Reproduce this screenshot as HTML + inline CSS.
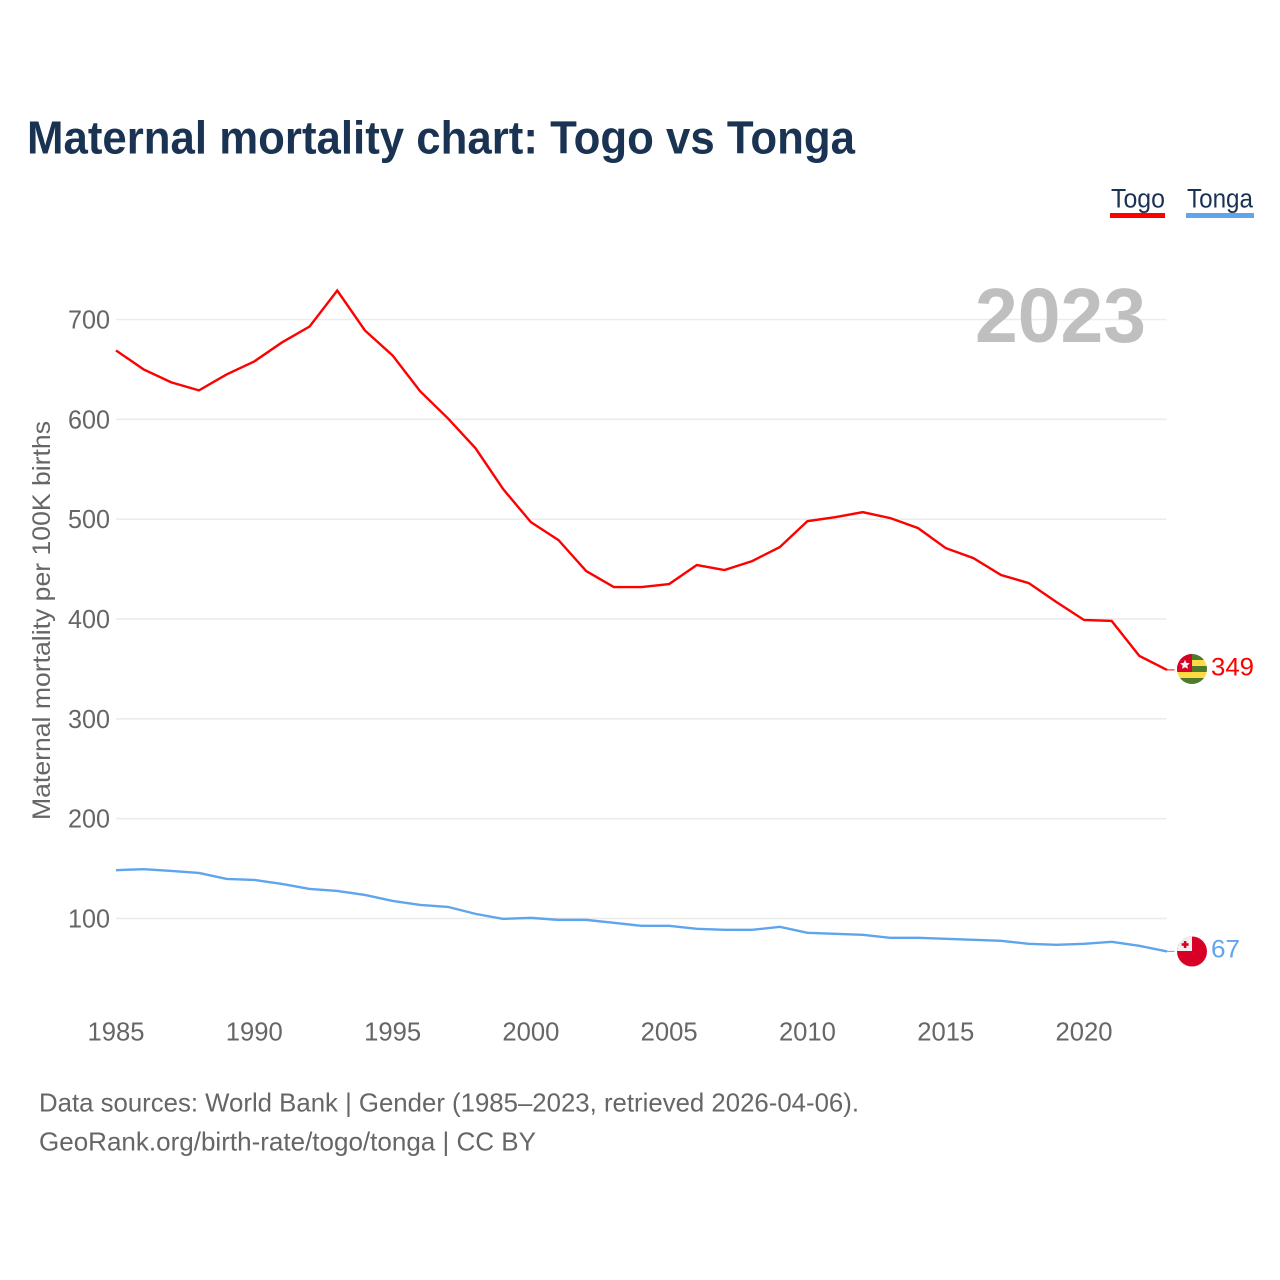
<!DOCTYPE html>
<html lang="en">
<head>
<meta charset="utf-8">
<title>Maternal mortality chart: Togo vs Tonga</title>
<style>
html,body{margin:0;padding:0;background:#fff;}
svg{display:block;}
text{font-family:"Liberation Sans",sans-serif;}
</style>
</head>
<body>
<svg id="chart" xmlns="http://www.w3.org/2000/svg" width="1280" height="1280" viewBox="0 0 1280 1280">
  <rect x="0" y="0" width="1280" height="1280" fill="#ffffff"/>
  <text x="27" y="153.3" font-size="46.5" font-weight="700" fill="#1a3353" textLength="828" lengthAdjust="spacingAndGlyphs">Maternal mortality chart: Togo vs Tonga</text>

  <g>
    <g>
      <text x="1111" y="207.7" font-size="26.5" fill="#1a3353" textLength="54" lengthAdjust="spacingAndGlyphs">Togo</text>
      <rect x="1110" y="213" width="55" height="5" fill="#ff0000"/>
    </g>
    <g>
      <text x="1187" y="207.7" font-size="26.5" fill="#1a3353" textLength="66" lengthAdjust="spacingAndGlyphs">Tonga</text>
      <rect x="1186" y="213" width="68" height="5" fill="#5fa5ee"/>
    </g>
  </g>

  <g id="grid"></g>
  <g id="yticks"></g>
  <g id="xticks"></g>

  <text x="975" y="342" font-size="77" font-weight="700" fill="#bfbfbf" textLength="171" lengthAdjust="spacingAndGlyphs">2023</text>

  <text transform="translate(50,820) rotate(-90)" x="0" y="0" font-size="25" fill="#666666" textLength="399" lengthAdjust="spacingAndGlyphs">Maternal mortality per 100K births</text>

  <g id="series"></g>

  <defs>
    <clipPath id="flag-clip-togo"><circle cx="1192" cy="669" r="15"/></clipPath>
    <clipPath id="flag-clip-tonga"><circle cx="1192" cy="951.5" r="15"/></clipPath>
  </defs>

  <g clip-path="url(#flag-clip-togo)">
    <rect x="1177" y="654" width="30" height="6" fill="#4e7a2c"/>
    <rect x="1177" y="660" width="30" height="6" fill="#ffda44"/>
    <rect x="1177" y="666" width="30" height="6" fill="#4e7a2c"/>
    <rect x="1177" y="672" width="30" height="6" fill="#ffda44"/>
    <rect x="1177" y="678" width="30" height="6" fill="#4e7a2c"/>
    <rect x="1177" y="654" width="15" height="18" fill="#d80027"/>
    <polygon points="1185,659.8 1186.4,662.9 1189.8,663.3 1187.3,665.6 1188,668.9 1185,667.2 1182,668.9 1182.7,665.6 1180.2,663.3 1183.6,662.9" fill="#f0f0f0"/>
  </g>

  <g clip-path="url(#flag-clip-tonga)">
    <rect x="1177" y="936" width="30" height="31" fill="#d80027"/>
    <rect x="1177" y="936" width="15" height="15" fill="#f0f0f0"/>
    <rect x="1183.8" y="941" width="2.6" height="7" fill="#d80027"/>
    <rect x="1181.6" y="943.2" width="7" height="2.6" fill="#d80027"/>
  </g>

  <text id="label-togo" x="1211" y="675.5" font-size="25" fill="#ff0000" textLength="43" lengthAdjust="spacingAndGlyphs"></text>
  <text id="label-tonga" x="1211" y="957.5" font-size="25" fill="#5fa5ee" textLength="29" lengthAdjust="spacingAndGlyphs"></text>

  <g>
    <text x="39" y="1111.5" font-size="26" fill="#666666" textLength="820" lengthAdjust="spacingAndGlyphs">Data sources: World Bank | Gender (1985–2023, retrieved 2026-04-06).</text>
    <text x="39" y="1150.5" font-size="26" fill="#666666" textLength="497" lengthAdjust="spacingAndGlyphs">GeoRank.org/birth-rate/togo/tonga | CC BY</text>
  </g>
</svg>
<script>
const years = [1985,1986,1987,1988,1989,1990,1991,1992,1993,1994,1995,1996,1997,1998,1999,2000,2001,2002,2003,2004,2005,2006,2007,2008,2009,2010,2011,2012,2013,2014,2015,2016,2017,2018,2019,2020,2021,2022,2023];
const togoValues = [669,650,637,629,645,658,677,693,729,689,664,628,601,571,530,497,479,448,432,432,435,454,449,458,472,498,502,507,501,491,471,461,444,436,417,399,398,363,349];
const tongaValues = [148.4,149.4,147.6,145.6,139.6,138.6,134.6,129.6,127.6,123.6,117.6,113.6,111.6,104.6,99.6,100.6,98.6,98.6,95.6,92.6,92.6,89.6,88.6,88.6,91.6,85.6,84.6,83.6,80.6,80.6,79.6,78.6,77.6,74.6,73.6,74.6,76.6,72.6,67];
const yTickValues = [100,200,300,400,500,600,700];
const xTickValues = [1985,1990,1995,2000,2005,2010,2015,2020];

const NS = 'http://www.w3.org/2000/svg';
function xScale(year){ return 116 + (year - 1985) * (1167 - 116) / 38; }
function yScale(v){ return 1018.3 - v * 0.9983; }
function make(tag, attrs, parent){
  const el = document.createElementNS(NS, tag);
  for (const k in attrs) el.setAttribute(k, attrs[k]);
  parent.appendChild(el);
  return el;
}

const grid = document.getElementById('grid');
const yticks = document.getElementById('yticks');
yTickValues.forEach(function(v){
  const line = make('line', {x1:116, x2:1166.5, y1:yScale(v), y2:yScale(v), stroke:'#ececec', 'stroke-width':1.6}, grid);
  
  
  const t = make('text', {x:110, y:yScale(v) + 9, 'text-anchor':'end', 'font-size':26, fill:'#666666', textLength:42, lengthAdjust:'spacingAndGlyphs'}, yticks);
  
  
  t.textContent = v;
});

const xticks = document.getElementById('xticks');
xTickValues.forEach(function(y){
  const t = make('text', {x:xScale(y), y:1040.3, 'text-anchor':'middle', 'font-size':26, fill:'#666666', textLength:57, lengthAdjust:'spacingAndGlyphs'}, xticks);
  
  
  t.textContent = y;
});

const series = document.getElementById('series');
function drawSeries(values, color, name){
  const pts = values.map(function(v, i){ return xScale(years[i]).toFixed(2) + ',' + yScale(v).toFixed(2); }).join(' ');
  const line = make('polyline', {points:pts, fill:'none', stroke:color, 'stroke-width':2.4, 'stroke-linejoin':'miter'}, series);
  
  
  const lastY = yScale(values[values.length - 1]);
  const stub = make('line', {x1:1167, x2:1174.5, y1:lastY, y2:lastY, stroke:color, 'stroke-width':1}, series);
  
  
}
drawSeries(togoValues, '#ff0000', 'togo');
drawSeries(tongaValues, '#5fa5ee', 'tonga');

document.getElementById('label-togo').textContent = Math.round(togoValues[togoValues.length - 1]);
document.getElementById('label-tonga').textContent = Math.round(tongaValues[tongaValues.length - 1]);
</script>
</body>
</html>
